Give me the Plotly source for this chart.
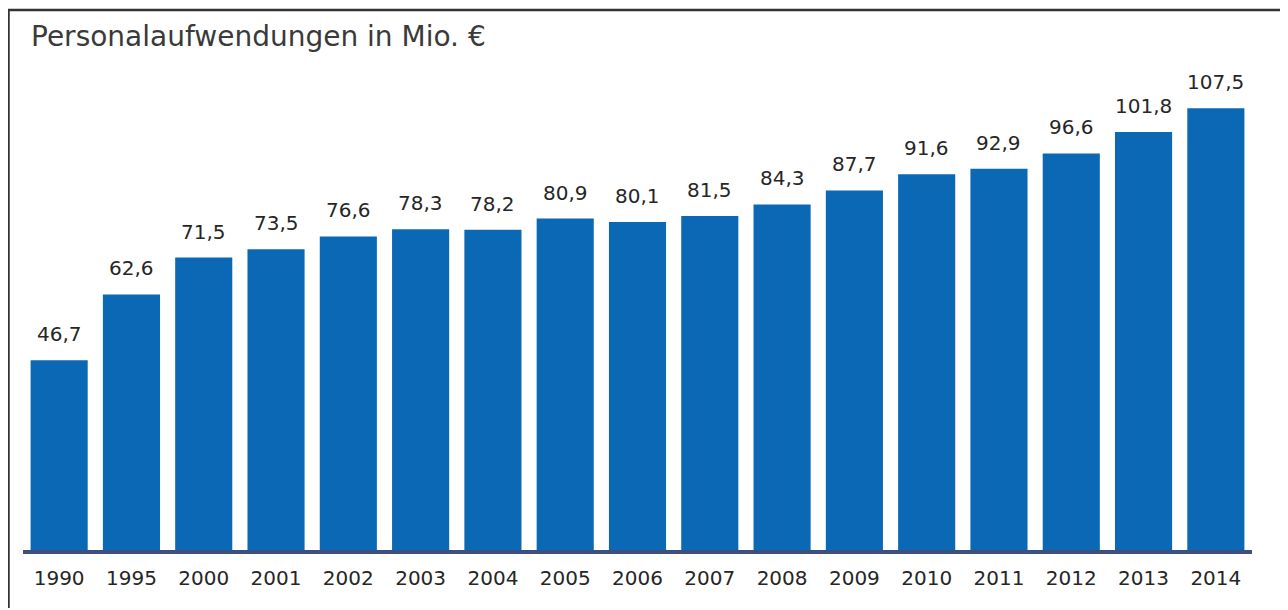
import plotly.graph_objects as go

years = ["1990", "1995", "2000", "2001", "2002", "2003", "2004", "2005", "2006",
         "2007", "2008", "2009", "2010", "2011", "2012", "2013", "2014"]
values = [46.7, 62.6, 71.5, 73.5, 76.6, 78.3, 78.2, 80.9, 80.1,
          81.5, 84.3, 87.7, 91.6, 92.9, 96.6, 101.8, 107.5]
labels = [f"{v:.1f}".replace(".", ",") for v in values]
title_text = "Personalaufwendungen in Mio. €"

FONT = "DejaVu Sans, Verdana, sans-serif"
W, H = 1280, 600
ml, mr, mt, mb = 15, 36, 7, 54
pw = W - ml - mr
ph = H - mt - mb

def px_x(x):
    return (x - ml) / pw

def px_y(y):
    return 1 - (y - mt) / ph

fig = go.Figure(go.Bar(
    x=years, y=values,
    marker=dict(color="#0b68b5", line=dict(width=0)),
))

annotations = [
    dict(x=i, y=v, text=lb, xref="x", yref="y", showarrow=False,
         xanchor="center", yanchor="bottom", yshift=12,
         font=dict(family=FONT, size=20, color="#262626"))
    for i, (v, lb) in enumerate(zip(values, labels))
]
annotations.append(
    dict(text=title_text, xref="paper", yref="paper", x=px_x(21), y=px_y(28),
         xanchor="left", yanchor="middle", showarrow=False,
         font=dict(family=FONT, size=28, color="#3a3a3a"))
)

fig.update_layout(
    width=W, height=H,
    margin=dict(l=ml, r=mr, t=mt, b=mb),
    paper_bgcolor="white", plot_bgcolor="white",
    bargap=0.21,
    showlegend=False,
    xaxis=dict(type="category", range=[-0.5, 16.5], showgrid=False, zeroline=False,
               showline=False, ticks="outside", ticklen=6, tickcolor="rgba(0,0,0,0)",
               tickfont=dict(family=FONT, size=20, color="#262626")),
    yaxis=dict(range=[0, 130], visible=False),
    shapes=[
        dict(type="line", xref="x", yref="y", x0=-0.5, x1=16.5, y0=0, y1=0,
             line=dict(color="#3d4f7f", width=8), layer="above"),
        dict(type="line", xref="paper", yref="paper", x0=px_x(0.5), x1=px_x(0.5),
             y0=px_y(1), y1=px_y(605), line=dict(color="#333333", width=2.5)),
        dict(type="line", xref="paper", yref="paper", x0=px_x(0), x1=px_x(1285),
             y0=px_y(2), y1=px_y(2), line=dict(color="#333333", width=2.5)),
    ],
    annotations=annotations,
)

fig.write_html("out.html")
